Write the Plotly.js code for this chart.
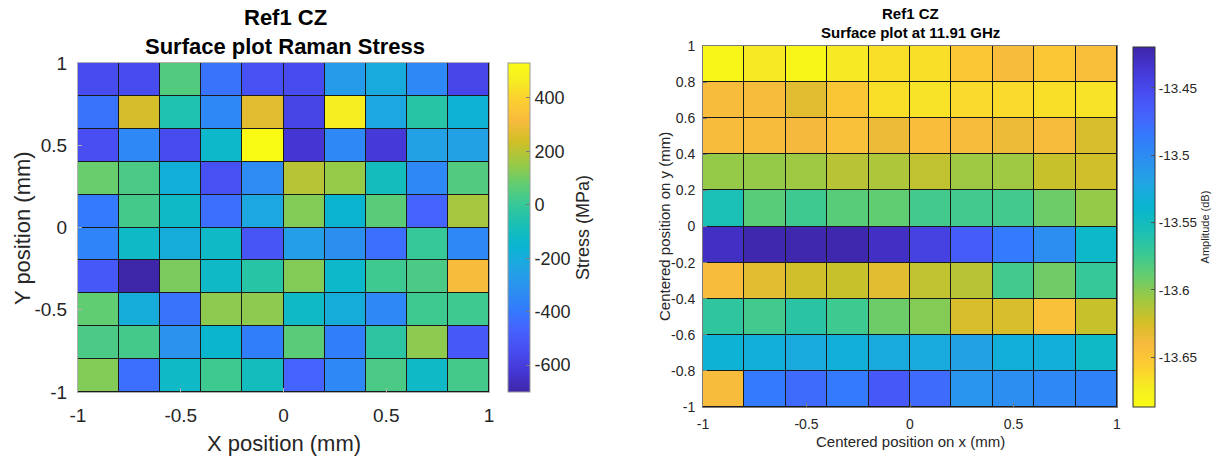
<!DOCTYPE html>
<html>
<head>
<meta charset="utf-8">
<script src="https://cdn.plot.ly/plotly-3.0.1.min.js"></script>
<style>
html,body{margin:0;padding:0;background:#fff;}
#chart{width:1228px;height:457px;}
</style>
</head>
<body>
<div id="chart"></div>
<script>
// ---------- data ----------
const xCenters = [-0.9, -0.7, -0.5, -0.3, -0.1, 0.1, 0.3, 0.5, 0.7, 0.9];
const yCenters = [0.9, 0.7, 0.5, 0.3, 0.1, -0.1, -0.3, -0.5, -0.7, -0.9]; // top row first

// Raman stress (MPa), rows listed top (y=0.9) to bottom (y=-0.9)
const stress = [
  [-553, -553,   51, -418, -529, -553, -270, -208, -344, -565],
  [-418,  248,  -60, -344,  272, -578,  469, -220,  -36, -171],
  [-541, -344, -553, -134,  531, -627, -344, -615, -245, -245],
  [  87,   38, -184, -529, -331,  198,  149,  -97, -344,   51],
  [-393,   26, -122, -430, -220,  124, -159,   63, -467,  174],
  [-356, -122, -196, -122, -516, -257, -319, -430,    1, -344],
  [-504, -701,  112, -122,  -36,  124, -134,   14,   38,  322],
  [  75, -196, -418,  137,  137, -122, -196, -344,   14,   14],
  [  38,   26, -307, -147, -381,   63, -381,  -23,  137, -504],
  [ 124, -430, -122,   14,  -97, -467, -344,   38, -122,   26]
];

// Amplitude at 11.91 GHz (dB), rows listed top (y=0.9) to bottom (y=-0.9)
const amplitude = [
  [-13.682, -13.671, -13.682, -13.671, -13.666, -13.666, -13.652, -13.642, -13.652, -13.644],
  [-13.642, -13.642, -13.631, -13.650, -13.666, -13.668, -13.663, -13.663, -13.666, -13.668],
  [-13.642, -13.642, -13.639, -13.646, -13.636, -13.643, -13.642, -13.636, -13.642, -13.626],
  [-13.604, -13.604, -13.607, -13.615, -13.612, -13.618, -13.607, -13.607, -13.620, -13.623],
  [-13.556, -13.585, -13.575, -13.585, -13.588, -13.577, -13.576, -13.577, -13.592, -13.604],
  [-13.430, -13.422, -13.422, -13.422, -13.430, -13.444, -13.465, -13.486, -13.502, -13.543],
  [-13.642, -13.631, -13.623, -13.620, -13.631, -13.618, -13.615, -13.576, -13.593, -13.572],
  [-13.568, -13.576, -13.565, -13.575, -13.592, -13.599, -13.627, -13.627, -13.646, -13.620],
  [-13.535, -13.532, -13.527, -13.532, -13.527, -13.527, -13.519, -13.532, -13.532, -13.545],
  [-13.642, -13.486, -13.476, -13.486, -13.462, -13.476, -13.508, -13.502, -13.497, -13.492]
];

const stressRange = [-701, 531];
const ampRange = [-13.687, -13.4196];

const leftTickVals = [-1, -0.5, 0, 0.5, 1];
const leftTickText = ['-1', '-0.5', '0', '0.5', '1'];
const rightXTickVals = [-1, -0.5, 0, 0.5, 1];
const rightXTickText = ['-1', '-0.5', '0', '0.5', '1'];
const rightYTickVals = [-1, -0.8, -0.6, -0.4, -0.2, 0, 0.2, 0.4, 0.6, 0.8, 1];
const rightYTickText = ['-1', '-0.8', '-0.6', '-0.4', '-0.2', '0', '0.2', '0.4', '0.6', '0.8', '1'];
const stressTickVals = [-600, -400, -200, 0, 200, 400];
const stressTickText = ['-600', '-400', '-200', '0', '200', '400'];
const ampTickVals = [-13.65, -13.6, -13.55, -13.5, -13.45];
const ampTickText = ['-13.65', '-13.6', '-13.55', '-13.5', '-13.45'];

const leftTitle = ['Ref1 CZ', 'Surface plot Raman Stress'];
const rightTitle = ['Ref1 CZ', 'Surface plot at 11.91 GHz'];

// ---------- styling ----------
const parula = [
  [0.000, 'rgb(62,38,168)'],
  [0.063, 'rgb(69,55,213)'],
  [0.127, 'rgb(72,77,240)'],
  [0.190, 'rgb(69,99,253)'],
  [0.254, 'rgb(50,124,252)'],
  [0.317, 'rgb(43,145,239)'],
  [0.381, 'rgb(32,165,227)'],
  [0.444, 'rgb(8,181,208)'],
  [0.508, 'rgb(25,191,182)'],
  [0.571, 'rgb(55,200,151)'],
  [0.635, 'rgb(100,205,111)'],
  [0.698, 'rgb(157,201,67)'],
  [0.762, 'rgb(209,191,39)'],
  [0.825, 'rgb(248,186,61)'],
  [0.889, 'rgb(252,207,48)'],
  [0.952, 'rgb(246,239,32)'],
  [1.000, 'rgb(249,251,21)']
];

const FONT = '"Liberation Sans", Arial, Helvetica, sans-serif';
const TXT = '#262626';
const W = 1228, H = 457;
const px = v => v / W;
const py = v => (H - v) / H;

const traces = [
  {
    type: 'heatmap', x: xCenters, y: yCenters, z: stress,
    colorscale: parula, zmin: stressRange[0], zmax: stressRange[1],
    xgap: 1, ygap: 1, xaxis: 'x', yaxis: 'y', hoverinfo: 'z',
    colorbar: {
      x: px(508), xanchor: 'left', xpad: 0, ypad: 0,
      y: (py(63) + py(392)) / 2, yanchor: 'middle',
      len: (392 - 63) / H, lenmode: 'fraction',
      thickness: 22, thicknessmode: 'pixels',
      outlinecolor: '#9a9a9a', outlinewidth: 1,
      tickmode: 'array', tickvals: stressTickVals, ticktext: stressTickText,
      ticks: 'inside', ticklen: 4, tickcolor: '#7a7a7a',
      tickfont: {family: FONT, size: 18, color: TXT},
      title: {text: 'Stress (MPa)', side: 'right', font: {family: FONT, size: 18, color: TXT}}
    }
  },
  {
    type: 'heatmap', x: xCenters, y: yCenters, z: amplitude,
    colorscale: parula, reversescale: true, zmin: ampRange[0], zmax: ampRange[1],
    xgap: 1, ygap: 1, xaxis: 'x2', yaxis: 'y2', hoverinfo: 'z',
    colorbar: {
      x: px(1133), xanchor: 'left', xpad: 0, ypad: 0,
      y: (py(47) + py(407)) / 2, yanchor: 'middle',
      len: (407 - 47) / H, lenmode: 'fraction',
      thickness: 22, thicknessmode: 'pixels',
      outlinecolor: '#333333', outlinewidth: 1,
      tickmode: 'array', tickvals: ampTickVals, ticktext: ampTickText,
      ticks: 'inside', ticklen: 4, tickcolor: '#555555',
      tickfont: {family: FONT, size: 13.5, color: TXT},
      title: {text: 'Amplitude (dB)', side: 'right', font: {family: FONT, size: 11, color: TXT}}
    }
  }
];

function axisBase(extra) {
  return Object.assign({
    range: [-1, 1], showgrid: false, zeroline: false,
    showline: true, mirror: true, linewidth: 1,
    ticks: 'inside', ticklen: 4, tickmode: 'array', fixedrange: true
  }, extra);
}

const layout = {
  width: W, height: H,
  margin: {l: 0, r: 0, t: 0, b: 0, pad: 0},
  paper_bgcolor: '#ffffff', plot_bgcolor: '#1a1a1a',
  showlegend: false,
  font: {family: FONT, color: TXT},
  xaxis: axisBase({domain: [px(78), px(489)], anchor: 'y',
    tickvals: leftTickVals, ticktext: leftTickText,
    linecolor: '#b0b0b0', tickcolor: '#b0b0b0',
    tickfont: {family: FONT, size: 19, color: TXT}, ticklabelstandoff: 6}),
  yaxis: axisBase({domain: [py(392), py(63)], anchor: 'x',
    tickvals: leftTickVals, ticktext: leftTickText,
    linecolor: '#b0b0b0', tickcolor: '#b0b0b0',
    tickfont: {family: FONT, size: 19, color: TXT}, ticklabelstandoff: 6}),
  xaxis2: axisBase({domain: [px(703), px(1117)], anchor: 'y2',
    tickvals: rightXTickVals, ticktext: rightXTickText,
    linecolor: '#7a7a7a', tickcolor: '#7a7a7a',
    tickfont: {family: FONT, size: 14, color: TXT}, ticklabelstandoff: 4}),
  yaxis2: axisBase({domain: [py(407), py(46)], anchor: 'x2',
    tickvals: rightYTickVals, ticktext: rightYTickText,
    linecolor: '#7a7a7a', tickcolor: '#7a7a7a',
    tickfont: {family: FONT, size: 14, color: TXT}, ticklabelstandoff: 4}),
  annotations: [
    {text: '<b>' + leftTitle[0] + '</b>', xref: 'paper', yref: 'paper', x: px(285), y: py(18),
     xanchor: 'center', yanchor: 'middle', showarrow: false, font: {family: FONT, size: 22, color: '#000'}},
    {text: '<b>' + leftTitle[1] + '</b>', xref: 'paper', yref: 'paper', x: px(285), y: py(46),
     xanchor: 'center', yanchor: 'middle', showarrow: false, font: {family: FONT, size: 22, color: '#000'}},
    {text: '<b>' + rightTitle[0] + '</b>', xref: 'paper', yref: 'paper', x: px(910), y: py(13),
     xanchor: 'center', yanchor: 'middle', showarrow: false, font: {family: FONT, size: 15, color: '#000'}},
    {text: '<b>' + rightTitle[1] + '</b>', xref: 'paper', yref: 'paper', x: px(910), y: py(32),
     xanchor: 'center', yanchor: 'middle', showarrow: false, font: {family: FONT, size: 15, color: '#000'}},
    {text: 'X position (mm)', xref: 'paper', yref: 'paper', x: px(284), y: py(443),
     xanchor: 'center', yanchor: 'middle', showarrow: false, font: {family: FONT, size: 22, color: TXT}},
    {text: 'Y position (mm)', xref: 'paper', yref: 'paper', x: px(22), y: py(228), textangle: -90,
     xanchor: 'center', yanchor: 'middle', showarrow: false, font: {family: FONT, size: 22, color: TXT}},
    {text: 'Centered position on x (mm)', xref: 'paper', yref: 'paper', x: px(910), y: py(441),
     xanchor: 'center', yanchor: 'middle', showarrow: false, font: {family: FONT, size: 15, color: TXT}},
    {text: 'Centered position on y (mm)', xref: 'paper', yref: 'paper', x: px(664), y: py(227), textangle: -90,
     xanchor: 'center', yanchor: 'middle', showarrow: false, font: {family: FONT, size: 15, color: TXT}}
  ]
};

Plotly.newPlot('chart', traces, layout, {displayModeBar: false, staticPlot: true});
</script>
</body>
</html>
